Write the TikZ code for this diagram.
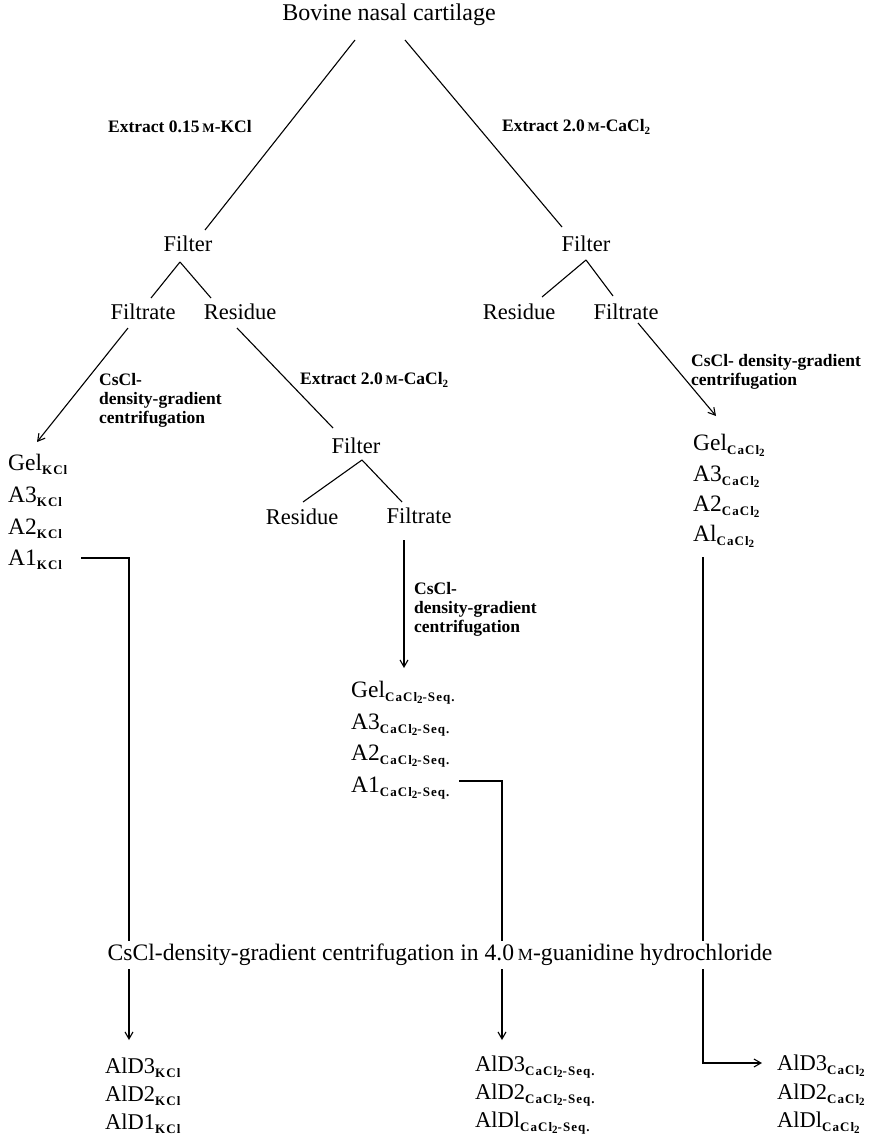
\documentclass[tikz,border=0pt]{standalone}
\usepackage{fontspec}
\setmainfont{Liberation Serif}
\usetikzlibrary{arrows.meta,calc}
\newcommand\mol[1]{{\fontsize{#1}{#1}\selectfont M}}
\newcommand\sbs[1]{\raisebox{-4pt}{\fontsize{13}{13}\selectfont\bfseries\addfontfeature{LetterSpace=8}#1}}
\newcommand\tw{\raisebox{-2.5pt}{\fontsize{11}{11}\selectfont 2}}
\begin{document}
\begin{tikzpicture}[x=1pt,y=-1pt,
 every node/.style={font=\fontsize{22.5}{24}\selectfont},
 lab/.style={font=\fontsize{17.5}{19}\selectfont\bfseries, anchor=west, align=left, inner sep=0pt},
 item/.style={anchor=west, inner sep=0pt, text height=14pt, text depth=0pt, font=\fontsize{23.5}{24}\selectfont},
 bitem/.style={item, font=\fontsize{22.5}{24}\selectfont},
 ln/.style={line width=1.1pt},
 arr/.style={ln, -{Straight Barb[length=7pt,width=8pt]}}]
\useasboundingbox (0,0) rectangle (882,1140);

% main nodes
\node[font=\fontsize{24}{26}\selectfont] (top) at (389,15) {Bovine nasal cartilage};
\node (filterL) at (188,244) {Filter};
\node (filterR) at (586,244) {Filter};
\node (filtrateL) at (143,312) {Filtrate};
\node (residueL) at (240,312) {Residue};
\node (residueR) at (519,312) {Residue};
\node (filtrateR) at (626,312) {Filtrate};
\node (filterM) at (356,446) {Filter};
\node (residueM) at (302,517) {Residue};
\node (filtrateM) at (419,516) {Filtrate};

% labels
\node[lab] (extL) at (108,127) {Extract 0.15\,\mol{13}-KCl};
\node[lab] (extR) at (502,127) {Extract 2.0\,\mol{13}-CaCl\tw};
\node[lab] (extM) at (300,380) {Extract 2.0\,\mol{13}-CaCl\tw};
\node[lab] (cfL) at (99,400) {CsCl-\\density-gradient\\centrifugation};
\node[lab] (cfM) at (414,609) {CsCl-\\density-gradient\\centrifugation};
\node[lab] (cfR) at (691,372) {CsCl- density-gradient\\centrifugation};

% KCl list
\node[item] (gelK) at (8,463) {Gel\sbs{KCl}};
\node[item] (a3K) at (8,495) {A3\sbs{KCl}};
\node[item] (a2K) at (8,527) {A2\sbs{KCl}};
\node[item] (a1K) at (8,558) {A1\sbs{KCl}};
% CaCl2-Seq list
\node[item] (gelS) at (351,690) {Gel\sbs{CaCl\tw-Seq.}};
\node[item] (a3S) at (351,722) {A3\sbs{CaCl\tw-Seq.}};
\node[item] (a2S) at (351,753) {A2\sbs{CaCl\tw-Seq.}};
\node[item] (a1S) at (351,785) {A1\sbs{CaCl\tw-Seq.}};
% CaCl2 list
\node[item] (gelC) at (693,443) {Gel\sbs{CaCl\tw}};
\node[item] (a3C) at (693,474) {A3\sbs{CaCl\tw}};
\node[item] (a2C) at (693,504) {A2\sbs{CaCl\tw}};
\node[item] (a1C) at (693,534) {Al\sbs{CaCl\tw}};

% guanidine step
\node[font=\fontsize{23.6}{26}\selectfont] (guan) at (440,955) {CsCl-density-gradient centrifugation in 4.0\,\mol{17}-guanidine hydrochloride};

% bottom lists
\node[bitem] (ald3K) at (105,1066) {AlD3\sbs{KCl}};
\node[bitem] (ald2K) at (105,1094) {AlD2\sbs{KCl}};
\node[bitem] (ald1K) at (105,1122) {AlD1\sbs{KCl}};
\node[bitem] (ald3S) at (475,1064) {AlD3\sbs{CaCl\tw-Seq.}};
\node[bitem] (ald2S) at (475,1092) {AlD2\sbs{CaCl\tw-Seq.}};
\node[bitem] (ald1S) at (475,1120) {AlDl\sbs{CaCl\tw-Seq.}};
\node[bitem] (ald3C) at (777,1063) {AlD3\sbs{CaCl\tw}};
\node[bitem] (ald2C) at (777,1092) {AlD2\sbs{CaCl\tw}};
\node[bitem] (ald1C) at (777,1120) {AlDl\sbs{CaCl\tw}};

\coordinate (vL) at (129,0);
\coordinate (vM) at (502,0);
\coordinate (vR) at (703,0);

% connectors
\draw[ln] ($(top)+(-34,25)$) -- ($(filterL)+(17,-14)$);
\draw[ln] ($(top)+(16,25)$) -- ($(filterR)+(-24,-17)$);
\draw[ln] ($(filterL)+(-8,18)$) -- ($(filtrateL)+(8,-14)$);
\draw[ln] ($(filterL)+(-8,18)$) -- ($(residueL)+(-29,-14)$);
\draw[ln] ($(filterR)+(0,16)$) -- ($(residueR)+(23,-15)$);
\draw[ln] ($(filterR)+(0,16)$) -- ($(filtrateR)+(-13,-16)$);
\draw[arr] ($(filtrateL)+(-15,16)$) -- ($(gelK.west)+(29,-21)$);
\draw[ln] ($(residueL)+(-3,16)$) -- ($(filterM)+(-23,-18)$);
\draw[ln] ($(filterM)+(6,14)$) -- ($(residueM)+(1,-15)$);
\draw[ln] ($(filterM)+(6,14)$) -- ($(filtrateM)+(-17,-14)$);
\draw[arr] ($(filtrateM)+(-15,24)$) -- ($(gelS.west)+(53,-22)$);
\draw[arr] ($(filtrateR)+(12,11)$) -- ($(gelC.west)+(23,-27)$);

\draw[ln] ($(a1K.west)+(73,0)$) -| (vL |- guan.north);
\draw[arr] (vL |- guan.south) -- ($(vL |- ald3K.west)+(0,-26)$);
\draw[ln] ($(a1S.west)+(108,-4)$) -| (vM |- guan.north);
\draw[arr] (vM |- guan.south) -- ($(vM |- ald3S.west)+(0,-24)$);
\draw[ln] ($(a1C.west)+(10,23)$) -- (vR |- guan.north);
\draw[arr] (vR |- guan.south) |- ($(ald3C.west)+(-15,0)$);
\end{tikzpicture}
\end{document}
